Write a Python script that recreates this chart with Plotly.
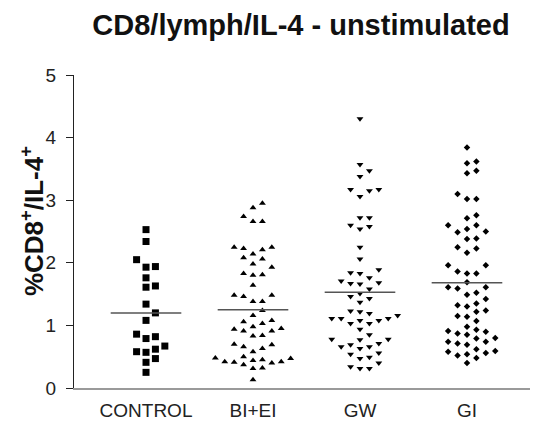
import numpy as np
import plotly.graph_objects as go

# Groups and their measured values (% CD8+/IL-4+ of lymphocytes)
groups = ["CONTROL", "BI+EI", "GW", "GI"]

control = [2.53, 2.34, 2.05, 1.94, 1.93, 1.76, 1.61, 1.63, 1.34, 1.20, 1.08,
           0.82, 0.79, 0.86, 0.62, 0.57, 0.58, 0.67, 0.47, 0.41, 0.25]

bi_ei = [2.95, 2.88, 2.74, 2.66, 2.66, 2.25, 2.21, 2.23, 2.25, 2.08, 2.14, 2.06,
         1.98, 1.93, 1.81, 1.80, 1.83, 1.64, 1.48, 1.38, 1.38, 1.46, 1.48, 1.24,
         1.16, 1.08, 1.03, 1.06, 0.94, 0.91, 0.98, 0.91, 0.95, 0.83, 0.84, 0.70,
         0.66, 0.63, 0.69, 0.58, 0.42, 0.45, 0.50, 0.47, 0.44, 0.48, 0.40, 0.42,
         0.37, 0.41, 0.32, 0.31, 0.13]

gw = [4.30, 3.57, 3.47, 3.38, 3.17, 3.15, 3.06, 3.17, 2.72, 2.72, 2.58, 2.54,
      2.60, 2.25, 2.06, 1.89, 1.84, 1.76, 1.83, 1.68, 1.66, 1.67, 1.71, 1.58,
      1.51, 1.46, 1.43, 1.37, 1.22, 1.19, 1.23, 1.16, 1.11, 1.08, 1.08, 1.03,
      1.03, 1.11, 1.11, 0.94, 0.85, 0.78, 0.78, 0.71, 0.66, 0.63, 0.66, 0.69,
      0.77, 0.54, 0.49, 0.56, 0.47, 0.40, 0.34, 0.31, 0.31]

gi = [3.84, 3.62, 3.59, 3.43, 3.47, 3.02, 3.02, 3.10, 2.71, 2.76, 2.60, 2.54,
      2.60, 2.49, 2.50, 2.38, 2.39, 2.23, 2.16, 2.25, 1.96, 1.96, 1.83, 1.86,
      1.83, 1.69, 1.61, 1.59, 1.61, 1.49, 1.52, 1.42, 1.32, 1.30, 1.35, 1.22,
      1.24, 1.15, 1.14, 1.07, 0.98, 0.93, 0.90, 0.85, 0.79, 0.80, 0.87, 0.91,
      0.74, 0.71, 0.62, 0.69, 0.74, 0.56, 0.58, 0.52, 0.59, 0.48, 0.54, 0.40]

# Group means shown as horizontal bars
means = [1.20, 1.25, 1.53, 1.68]

series = [control, bi_ei, gw, gi]
symbols = ["square", "triangle-up", "triangle-down", "diamond"]
sizes = [7, 6, 6, 5]


def swarm_offsets(values, step=0.088, min_gap=0.13):
    """Simple beeswarm: put each point in the nearest free column slot."""
    order = np.argsort(values)
    placed = {}
    offsets = np.zeros(len(values))
    candidates = [0]
    for n in range(1, 10):
        candidates += [n, -n]
    for idx in order:
        v = values[idx]
        for k in candidates:
            col = placed.setdefault(k, [])
            if all(abs(v - w) >= min_gap for w in col):
                col.append(v)
                offsets[idx] = k * step
                break
    return offsets


fig = go.Figure()

for i, vals in enumerate(series):
    vals = np.asarray(vals, dtype=float)
    xs = i + swarm_offsets(vals)
    fig.add_trace(go.Scatter(
        x=xs, y=vals, mode="markers",
        marker=dict(symbol=symbols[i], size=sizes[i], color="black"),
        showlegend=False, hoverinfo="y",
    ))
    fig.add_trace(go.Scatter(
        x=[i - 0.33, i + 0.33], y=[means[i], means[i]], mode="lines",
        line=dict(color="#555555", width=1.5),
        showlegend=False, hoverinfo="skip",
    ))

fig.update_layout(
    width=536, height=427,
    margin=dict(l=74, r=6, t=75, b=37),
    paper_bgcolor="white", plot_bgcolor="white",
    font=dict(family="Liberation Sans, Arial, sans-serif", color="#111111"),
    title=dict(
        text="<b>CD8/lymph/IL-4 - unstimulated</b>",
        font=dict(size=29, color="#111111"),
        x=301 / 536, xref="container", xanchor="center",
        y=1 - 25 / 427, yref="container", yanchor="middle",
    ),
    xaxis=dict(
        range=[-0.673, 3.589],
        tickmode="array", tickvals=list(range(len(groups))), ticktext=groups,
        showgrid=False, zeroline=False,
        showline=True, linecolor="#9a9a9a", linewidth=2,
        ticks="", ticklabelstandoff=4,
        tickfont=dict(size=19, color="#222222"),
    ),
    yaxis=dict(
        range=[0, 5], tickvals=[0, 1, 2, 3, 4, 5],
        showgrid=False, zeroline=False,
        showline=True, linecolor="#222222", linewidth=1,
        ticks="outside", ticklen=7, tickcolor="#222222",
        ticklabelstandoff=6,
        tickfont=dict(size=19, color="#222222"),
    ),
    annotations=[dict(
        text="<b>%CD8<sup>+</sup>/IL-4<sup>+</sup></b>",
        xref="paper", yref="paper", x=(32 - 74) / 456, y=(390 - 222) / 315,
        xanchor="center", yanchor="middle",
        textangle=-90, showarrow=False,
        font=dict(size=26, color="#111111"),
    )],
)

fig.write_html("out.html")
